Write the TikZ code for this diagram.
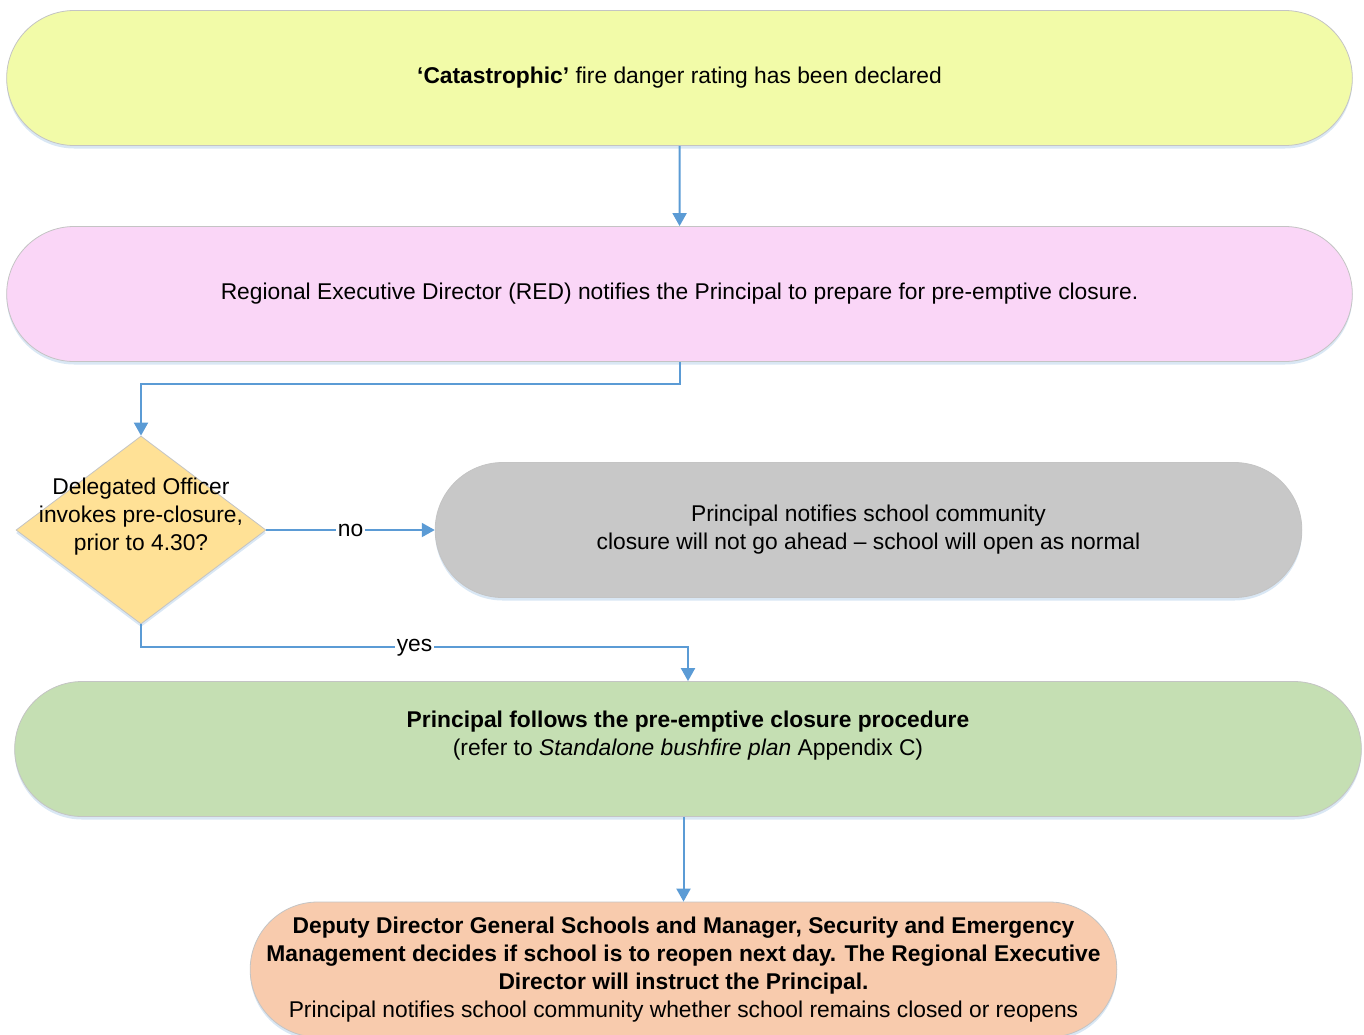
\documentclass[tikz,border=0pt]{standalone}
\usepackage{fontspec}
\setmainfont{Liberation Sans}
\usetikzlibrary{shapes.misc,shapes.geometric,arrows.meta,shadows}

\definecolor{declaredfill}{HTML}{F2FBA8}
\definecolor{notifyfill}{HTML}{FAD6F7}
\definecolor{officerfill}{HTML}{FFE196}
\definecolor{normalfill}{HTML}{C8C8C8}
\definecolor{procedurefill}{HTML}{C5DFB3}
\definecolor{decidefill}{HTML}{F8CBAD}
\definecolor{lineblue}{HTML}{5B9BD5}
\definecolor{edgegray}{HTML}{C4C4C4}
\definecolor{shadowblue}{HTML}{C9DDF0}

\begin{document}
\begin{tikzpicture}[x=0.5pt,y=-0.5pt,
  font=\fontsize{11.4}{14}\selectfont,
  stage/.style={rounded rectangle, draw=edgegray, line width=0.4pt,
    minimum height=67.5pt, align=center,
    drop shadow={shadow xshift=0pt, shadow yshift=-1.5pt, fill=shadowblue, opacity=0.7}},
  decision/.style={diamond, draw=edgegray, line width=0.4pt, fill=officerfill,
    minimum width=125pt, minimum height=94pt, inner sep=0pt,
    drop shadow={shadow xshift=0pt, shadow yshift=-1.5pt, fill=shadowblue, opacity=0.7}},
  flow/.style={draw=lineblue, line width=1pt, -{Triangle[length=6.5pt,width=7pt]}},
  answer/.style={fill=white, inner sep=1pt}]
\useasboundingbox (0,0) rectangle (1364,1034);
% Rating declared
\node[stage, fill=declaredfill, minimum width=679.5pt] (declared) at (679.5,78)
  {\textbf{‘Catastrophic’} fire danger rating has been declared};
% RED notifies the Principal
\node[stage, fill=notifyfill, minimum width=679.5pt] (notify) at (679.5,294)
  {Regional Executive Director (RED) notifies the Principal to prepare for pre-emptive closure.};
% Delegated Officer decision
\node[decision, label={[align=center, yshift=6.5pt]center:Delegated Officer\\invokes pre-closure,\\prior to 4.30?}] (officer) at (141,530) {};
% School opens as normal
\node[stage, fill=normalfill, minimum width=440pt] (normal) at (868.5,530)
  {Principal notifies school community\\closure will not go ahead -- school will open as normal};
% Pre-emptive closure procedure
\node[stage, fill=procedurefill, minimum width=680pt, label={[align=center, yshift=6.5pt]center:\textbf{Principal follows the pre-emptive closure procedure}\\(refer to \textit{Standalone bushfire plan} Appendix C)}] (procedure) at (688,749) {};
% Reopen decision
\node[stage, fill=decidefill, minimum width=440pt, label={[align=center]center:\textbf{Deputy Director General Schools and Manager, Security and Emergency}\\
   \textbf{Management decides if school is to reopen next day. The Regional Executive}\\
   \textbf{Director will instruct the Principal.}\\
   Principal notifies school community whether school remains closed or reopens}] (decide) at (683.5,969.5) {};
% Connectors
\draw[flow] (declared) -- (notify);
\draw[flow] (notify.south) -- ++(0,22) -| (officer.north);
\draw[flow] (officer.east) -- node[answer] {no} (normal.west);
\draw[flow] (officer.south) -- ++(0,23) -| node[answer, pos=0.25] {yes} (procedure.north);
\draw[flow] (procedure.south -| decide.north) -- (decide.north);
\end{tikzpicture}
\end{document}
